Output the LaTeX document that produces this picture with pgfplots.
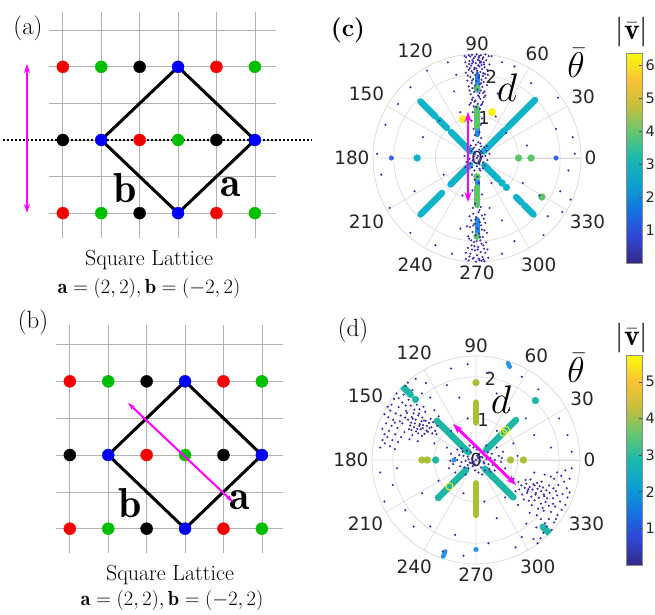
\RequirePackage{fix-cm}
\documentclass[border=0pt]{standalone}
\usepackage{pgfplots}
\pgfplotsset{compat=1.18}
\usepgfplotslibrary{polar}
\usetikzlibrary{arrows.meta}
\usepackage{fontspec}
\newfontfamily\dejavu{DejaVu Sans}

\definecolor{dk}{RGB}{60,40,180}
\definecolor{cy}{RGB}{15,180,200}
\definecolor{gr}{RGB}{90,198,105}
\definecolor{bl}{RGB}{35,140,225}
\definecolor{bld}{RGB}{55,100,235}
\definecolor{yl}{RGB}{250,240,20}
\definecolor{tl}{RGB}{30,182,165}
\definecolor{ol}{RGB}{168,193,50}
\definecolor{bltwo}{RGB}{40,150,235}
\definecolor{mag}{RGB}{255,0,255}
\definecolor{latred}{RGB}{245,0,0}
\definecolor{latgreen}{RGB}{0,190,0}
\definecolor{latblue}{RGB}{0,0,245}

\pgfplotsset{
  colormap={parula}{rgb255=(53,42,135) rgb255=(48,70,215) rgb255=(20,115,225) rgb255=(12,160,210) rgb255=(25,185,175) rgb255=(100,200,110) rgb255=(200,190,60) rgb255=(252,195,50) rgb255=(249,251,14)},
  lattice/.style={scale only axis, width=227bp, xmin=-3.36, xmax=2.55,
    xtick={-3,...,2}, ytick={-2,...,3}, grid=major,
    major grid style={draw=black!30, line width=0.7bp},
    axis line style={draw=none}, tick style={draw=none},
    xticklabels={}, yticklabels={}, clip=false},
  latdot/.style={only marks, mark=*, mark size=6bp},
  polarstyle/.style={scale only axis, width=208bp, height=208bp,
    ymin=0, ymax=2.5, xtick={0,30,...,330},
    xticklabels={0,30,60,90,120,150,180,210,240,270,300,330},
    ytick={1,2}, yticklabels={}, grid=major,
    major grid style={draw=black!13, line width=0.7bp},
    axis line style={draw=black!15, line width=0.7bp},
    tick style={draw=none},
    xticklabel style={font=\dejavu\fontsize{18.5}{18.5}\selectfont, text=black!85}},
  seg/.style={line width=6.5bp, line cap=round, no marks},
  bigdot/.style={only marks, mark=*, mark size=3.4bp},
  dkd/.style={only marks, mark=*, mark size=0.85bp, color=dk, data cs=cart},
  cbar/.style={scale only axis, width=16bp, height=210bp, anchor=north west,
    xmin=0, xmax=1, ymin=0, enlargelimits=false, xtick=\empty,
    ytick pos=right, yticklabel pos=right, tick align=inside, major tick length=3bp,
    yticklabel style={font=\dejavu\fontsize{14.5}{14.5}\selectfont, text=black!85},
    axis line style={draw=black!45, line width=0.5bp},
    tick style={draw=black!70, line width=0.5bp},
    colormap name=parula, point meta min=0, axis on top},
}
\newcommand\rlab{\dejavu\fontsize{18}{18}\selectfont}

\begin{document}
\begin{tikzpicture}
\useasboundingbox (0,0) rectangle (655bp,615bp);
\fill[white] (0,0) rectangle (655bp,615bp);

% ---------------- (a) lattice ----------------
\begin{axis}[lattice, at={(49bp,377bp)}, anchor=south west, height=226bp, ymin=-2.68, ymax=3.5]
\draw[black, line width=2.5bp, dash pattern=on 2bp off 2bp] (axis cs:-4.56,0) -- (axis cs:3.49,0);
\addplot[latdot, latred] coordinates {(-3,2) (1,2) (-1,0) (-3,-2) (1,-2)};
\addplot[latdot, latgreen] coordinates {(-2,2) (2,2) (0,0) (-2,-2) (2,-2)};
\addplot[latdot, black] coordinates {(-1,2) (-3,0) (1,0) (-1,-2)};
\addplot[latdot, latblue] coordinates {(0,2) (-2,0) (2,0) (0,-2)};
\addplot[black, line width=3bp, line join=round, line cap=round, no marks] coordinates {(0,2) (2,0) (0,-2) (-2,0) (0,2)};
\node at (axis cs:-1.38,-1.31) {\fontsize{42}{42}\selectfont$\mathbf{b}$};
\node at (axis cs:1.38,-1.28) {\fontsize{42}{42}\selectfont$\mathbf{a}$};
\end{axis}

% ---------------- (b) lattice ----------------
\begin{axis}[lattice, at={(56bp,62bp)}, anchor=south west, height=228bp, ymin=-2.66, ymax=3.53]
\addplot[latdot, latred] coordinates {(-3,2) (1,2) (-1,0) (-3,-2) (1,-2)};
\addplot[latdot, latgreen] coordinates {(-2,2) (2,2) (0,0) (-2,-2) (2,-2)};
\addplot[latdot, black] coordinates {(-1,2) (-3,0) (1,0) (-1,-2)};
\addplot[latdot, latblue] coordinates {(0,2) (-2,0) (2,0) (0,-2)};
\addplot[black, line width=3bp, line join=round, line cap=round, no marks] coordinates {(0,2) (2,0) (0,-2) (-2,0) (0,2)};
\node at (axis cs:-1.43,-1.31) {\fontsize{42}{42}\selectfont$\mathbf{b}$};
\node at (axis cs:1.43,-1.22) {\fontsize{42}{42}\selectfont$\mathbf{a}$};
\end{axis}

% ---------------- (c) polar ----------------
\begin{polaraxis}[polarstyle, at={(477bp,457bp)}, anchor=center]
\addplot[seg, bl, line width=5bp] coordinates {(90,1.63) (90,2.0)};
\addplot[seg, bl, line width=5bp] coordinates {(90,0.56) (90,0.72)};
\addplot[seg, gr] coordinates {(90,0.76) (90,1.2)};
\addplot[seg, bl, line width=5bp] coordinates {(270,1.48) (270,1.85)};
\addplot[seg, bl, line width=5bp] coordinates {(270,0.55) (270,0.68)};
\addplot[seg, gr] coordinates {(270,0.71) (270,1.13)};
\addplot[bigdot, gr] coordinates {(90,1.68) (270,0.45) (270,1.88) (0,1.0) (0,1.3) (329,1.82)};
\addplot[seg, cy] coordinates {(45,0.22) (45,0.95)};
\addplot[seg, cy] coordinates {(45,1.05) (45,1.97)};
\addplot[seg, cy] coordinates {(135,0.23) (135,0.88)};
\addplot[seg, cy] coordinates {(135,1.02) (135,1.3)};
\addplot[seg, cy] coordinates {(135,1.41) (135,1.92)};
\addplot[seg, cy] coordinates {(225,0.23) (225,0.9)};
\addplot[seg, cy] coordinates {(225,1.19) (225,1.92)};
\addplot[seg, cy] coordinates {(315,0.25) (315,0.73)};
\addplot[seg, cy] coordinates {(315,1.33) (315,1.52)};
\addplot[seg, cy] coordinates {(315,1.6) (315,1.92)};
\addplot[bigdot, cy] coordinates {(315,0.85) (315,1.0) (180,1.44)};
\addplot[bigdot, bld, mark size=2.3bp] coordinates {(0,1.9) (180,2.06)};
\addplot[bigdot, yl, mark size=3.8bp] coordinates {(110,0.99) (72,1.16)};
\addplot[dkd] coordinates {
(-0.12,2.48) (0.05,2.45) (0.15,2.42) (-0.08,2.40) (0.02,2.36) (-0.18,2.33) (0.10,2.31) (-0.03,2.28) (0.17,2.25) (-0.14,2.22)
(0.06,2.20) (-0.06,2.17) (0.12,2.14) (-0.20,2.12) (0.00,2.10) (0.08,2.07) (-0.10,2.05) (0.19,2.02) (-0.04,2.00) (0.14,1.97)
(-0.16,1.95) (0.04,1.93) (-0.09,1.90) (0.11,1.88) (-0.02,1.85) (0.16,1.83) (-0.13,1.80) (0.07,1.77) (-0.05,1.74) (0.13,1.71)
(-0.11,1.68) (0.01,1.65) (0.09,1.62) (-0.07,1.59) (0.15,1.56) (-0.15,1.53) (0.03,1.50) (-0.01,2.49) (0.09,2.47) (-0.16,2.44)
(0.13,2.38) (-0.11,2.35) (0.07,2.29) (-0.19,2.26) (0.18,2.18) (-0.07,2.13) (0.03,2.23) (-0.13,2.09) (0.15,2.04) (0.22,2.35)
(-0.24,2.20) (0.25,2.12) (-0.26,2.42) (0.28,2.45) (-0.22,1.98) (0.21,1.92) (-0.23,1.86) (0.24,1.75) (-0.20,1.72) (0.18,1.60)
(-0.10,1.45) (0.08,1.42) (-0.04,1.38) (0.14,1.35) (-0.15,1.32) (0.02,1.30) (0.10,1.27) (-0.08,1.24) (0.05,1.47) (-0.12,1.40)
(0.17,1.46) (-0.02,1.22) (0.06,0.62) (-0.05,0.55) (0.10,0.48) (-0.09,0.42) (0.03,0.38)
(0.04,2.41) (-0.09,2.31) (0.11,2.24) (-0.02,2.15) (0.06,2.34) (-0.05,2.44) (0.16,2.30) (-0.17,2.16) (0.01,2.06) (-0.12,2.27)
(0.20,2.49) (-0.20,2.47) (0.12,2.50) (-0.28,2.30) (0.30,2.25) (0.26,2.00) (-0.27,2.05) (0.05,1.98) (-0.12,1.86) (0.10,1.80)
(-0.18,1.62) (0.06,1.56) (0.20,1.50) (-0.06,1.35) (0.12,1.30) (-0.18,1.28) (0.07,1.18) (-0.10,1.10) (0.12,0.95) (-0.13,0.90)
(0.09,0.80) (-0.08,0.70)
(0.02,0.05) (-0.05,0.10) (0.08,-0.03) (-0.10,-0.06) (0.12,0.12) (-0.02,-0.12) (0.05,0.20) (-0.14,0.16) (0.15,-0.10) (-0.07,0.25)
(0.00,-0.20) (0.10,0.28) (-0.18,-0.02) (0.20,0.05) (-0.12,-0.22) (0.06,-0.26) (-0.03,0.32) (0.14,-0.25) (-0.20,0.20) (0.22,0.18)
(-0.25,-0.10) (0.25,-0.05) (0.00,0.00) (-0.06,-0.30) (0.08,0.35) (0.18,0.25) (-0.15,0.30) (0.30,0.10) (-0.30,0.05) (0.04,-0.08)
(-0.08,0.04) (0.10,0.00) (-0.04,0.15) (0.06,-0.15) (-0.16,-0.14) (0.13,0.04)
(0.18,-0.18) (-0.22,0.08) (0.09,0.16) (-0.10,0.22) (0.24,0.28) (-0.28,-0.22)
(0.04,-1.30) (-0.09,-1.34) (0.12,-1.38) (-0.02,-1.42) (0.16,-1.46) (-0.14,-1.50) (0.07,-1.54) (-0.06,-1.58) (0.10,-1.62) (-0.17,-1.66)
(0.01,-1.70) (0.18,-1.74) (-0.11,-1.78) (0.05,-1.82) (-0.03,-1.86) (0.14,-1.90) (-0.19,-1.94) (0.08,-1.98) (-0.07,-2.02) (0.11,-2.06)
(-0.13,-2.10) (0.03,-2.14) (0.17,-2.18) (-0.05,-2.22) (0.09,-2.26) (-0.16,-2.30) (0.00,-2.34) (0.13,-2.38) (-0.10,-2.42) (0.06,-2.46)
(-0.02,-2.49) (0.15,-2.44) (-0.18,-2.37) (0.20,-2.28) (-0.22,-2.16) (0.22,-2.03) (-0.21,-1.88) (0.24,-1.80) (-0.24,-1.64) (0.20,-1.56)
(-0.01,-2.00) (0.02,-2.20) (-0.08,-2.40) (0.11,-2.47) (-0.12,-2.20) (0.07,-1.90) (-0.04,-1.48) (0.01,-0.45) (-0.06,-0.52) (0.05,-0.60)
(-0.10,-1.20) (0.09,-1.18) (-0.27,-2.43) (0.27,-2.40)
(0.18,-2.48) (-0.20,-2.46) (0.25,-2.20) (-0.27,-2.28) (0.04,-2.42) (-0.06,-2.12) (0.15,-2.10) (-0.14,-1.98) (0.12,-1.72) (-0.09,-1.62)
(0.19,-1.36) (-0.18,-1.40) (0.06,-1.25) (-0.05,-1.10) (0.12,-0.88) (-0.11,-0.78) (0.08,-0.30) (-0.12,-0.40)
(-1.60,1.70) (-1.20,2.10) (-0.70,2.30) (-0.50,2.00) (0.60,2.30) (0.90,2.20) (1.30,1.80) (1.90,0.70) (2.30,0.50) (2.20,-0.30)
(2.00,-0.80) (2.25,-1.00) (1.50,-0.90) (1.10,-0.60) (1.70,-1.40) (0.90,-2.00) (0.60,-2.30) (-0.60,-2.30) (-1.00,-2.10) (-1.60,-1.80)
(-2.10,-1.20) (-2.30,-0.40) (-1.50,-0.80) (-0.90,0.90) (-1.30,0.50) (-2.20,0.80) (-1.90,1.30) (-0.40,1.10) (0.45,1.00) (0.70,0.60)
(0.35,-0.60) (-0.35,-0.90) (1.20,0.30) (-0.80,-0.40) (1.95,1.45) (2.35,0.10) (-2.40,0.10) (-0.30,2.45) (0.35,2.45) (-0.55,1.60)
(0.50,1.55) (1.60,-1.85) (0.30,-1.20) (-0.40,-1.70) (0.60,-1.50) (2.05,-1.30)
};
\node[font=\rlab, text=black!85] at (axis cs:80,0.98) {1};
\node[font=\rlab, text=black!85] at (axis cs:80,1.98) {2};
\node[font=\rlab, text=black!85] at (axis cs:0,0) {0};
\end{polaraxis}

% ---------------- (d) polar ----------------
\begin{polaraxis}[polarstyle, at={(476bp,155bp)}, anchor=center]
\addplot[dkd] coordinates {
(-1.73,1.97) (-1.64,1.86) (-1.69,1.78) (-1.82,1.74) (-1.53,1.68) (-1.91,1.60) (-1.74,1.57) (-1.86,1.49) (-1.97,1.47) (-1.77,1.38)
(-2.03,1.33) (-1.86,1.27) (-1.69,1.31) (-2.06,1.19) (-1.93,1.12) (-1.81,1.07) (-2.11,1.03) (-1.99,0.97) (-1.83,0.93) (-2.16,0.88)
(-2.03,0.82) (-1.89,0.77) (-2.09,0.70) (-1.94,0.62) (-2.13,0.55) (-2.01,0.48) (-2.19,0.40) (-1.87,0.43) (-2.07,0.33) (-1.95,0.26)
(-1.63,0.97) (-1.52,0.99) (-1.47,0.88) (-1.31,0.93) (-1.27,0.84) (-1.13,0.89) (-1.07,0.79) (-1.58,0.83) (-1.49,0.79) (-1.36,0.82)
(-1.33,0.74) (-1.19,0.71) (-1.12,0.77) (-0.98,0.70) (-1.61,0.74) (-1.44,0.69) (-1.41,0.75) (-1.24,0.63) (-1.16,0.68) (-1.66,1.13)
(-1.54,1.03) (-1.39,1.07) (-1.29,1.02) (-1.21,0.94) (-1.09,0.99) (-1.48,1.21) (-1.37,1.12) (-1.22,1.16) (-1.72,0.67) (-1.77,0.88)
(-1.30,0.58) (-1.53,0.60) (-1.03,0.91) (-0.93,0.82) (-1.42,1.33) (-1.57,1.31) (-1.26,1.28) (-1.68,1.18) (-1.45,0.97) (-1.35,0.86)
(-1.18,0.82) (-1.56,0.90) (-1.28,0.77) (-1.39,0.64)
(-1.30,1.60) (-1.10,1.50) (-1.00,1.20) (-0.90,1.05) (-2.20,1.10) (-2.25,0.75) (-1.60,0.50) (-1.40,0.45) (-2.30,0.30) (-1.45,1.95)
(-1.20,1.85) (-2.20,1.35)
(-1.85,1.82) (-2.05,1.55) (-1.62,1.45) (-1.95,0.90) (-2.20,0.62) (-1.80,0.55) (-1.55,0.72) (-1.25,0.95) (-1.05,0.64) (-1.50,1.12)
(-2.12,1.28) (-1.70,1.02) (-1.36,1.22) (-0.95,0.62) (-2.25,0.48)
(1.95,-0.30) (2.05,-0.38) (1.88,-0.45) (2.12,-0.52) (1.98,-0.60) (2.18,-0.68) (1.92,-0.75) (2.08,-0.82) (2.20,-0.90) (1.85,-0.92)
(2.02,-1.00) (2.15,-1.08) (1.90,-1.12) (2.06,-1.20) (1.80,-1.25) (1.96,-1.32) (2.10,-1.38) (1.75,-1.42) (1.88,-1.50) (2.00,-1.55)
(1.70,-1.60) (1.82,-1.68) (1.62,-1.75) (1.74,-1.82) (1.55,-1.88) (1.66,-1.95) (1.48,-2.00) (1.58,-2.08) (1.42,-2.12) (1.50,-2.20)
(1.35,-2.15) (1.95,-1.70) (1.86,-1.88) (2.25,-0.45) (2.30,-0.20)
(1.02,-0.53) (1.09,-0.61) (1.21,-0.57) (1.29,-0.65) (1.41,-0.61) (1.48,-0.69) (1.61,-0.66) (1.69,-0.73) (1.04,-0.71) (1.17,-0.67)
(1.24,-0.75) (1.36,-0.71) (1.44,-0.79) (1.57,-0.75) (1.63,-0.83) (1.77,-0.79) (1.11,-0.83) (1.23,-0.79) (1.33,-0.88) (1.43,-0.83)
(1.51,-0.91) (1.64,-0.87) (1.31,-0.47) (1.47,-0.55) (1.58,-0.52) (1.76,-0.61) (1.27,-0.98) (1.41,-0.97) (1.56,-1.05) (1.67,-1.01)
(1.19,-0.48) (1.86,-0.68) (1.49,-1.17) (1.34,-1.09) (1.63,-1.22) (1.46,-1.33) (1.56,-1.42) (1.29,-1.27) (1.21,-1.53) (1.01,-1.08)
(1.38,-0.58) (1.53,-0.63) (1.71,-0.92) (1.26,-0.70)
(2.15,-0.25) (1.80,-0.40) (1.95,-0.85) (2.25,-0.78) (1.75,-1.10) (1.92,-1.42) (1.66,-1.52) (1.45,-1.62) (1.38,-1.90) (1.60,-1.15)
(1.15,-0.95) (1.85,-1.05) (1.78,-1.95) (2.20,-1.20) (0.95,-0.75)
(0.90,-0.45) (1.65,-0.35) (1.40,-0.30) (2.30,-1.00) (1.10,-1.85) (0.95,-2.10) (1.20,-2.20)
(0.00,0.00) (0.05,0.05) (-0.05,-0.04) (0.10,-0.02) (-0.10,0.03) (0.15,0.06) (-0.15,-0.06) (0.20,-0.08) (-0.20,0.08) (0.25,0.02)
(-0.25,-0.02) (0.30,-0.10) (-0.30,0.10) (0.35,0.05) (-0.35,-0.05) (0.40,-0.12) (-0.40,0.12) (0.45,0.00) (-0.45,0.00) (0.50,-0.15)
(-0.50,0.05) (0.08,0.15) (-0.08,-0.15) (0.12,-0.18) (-0.12,0.18) (0.18,0.20) (-0.18,-0.20) (0.22,-0.25) (-0.22,0.22) (0.02,0.25)
(-0.02,-0.25) (0.28,0.18) (-0.28,-0.18) (0.32,-0.22) (-0.32,0.20) (0.06,-0.30) (-0.06,0.30) (0.38,0.15) (-0.38,-0.15) (0.55,0.10)
(-0.55,-0.10) (0.60,-0.05) (-0.60,0.15) (0.15,-0.35) (-0.15,0.35) (0.45,-0.25) (-0.45,0.25) (0.03,0.10) (-0.03,-0.10) (0.12,0.08)
(-0.12,-0.08) (0.20,0.12) (-0.20,-0.12) (0.65,0.20) (-0.65,-0.20) (0.70,-0.20) (-0.70,0.30) (0.25,0.35) (-0.25,-0.35) (0.50,0.30)
(-0.50,-0.30) (0.35,-0.28) (-0.35,0.28) (0.62,0.05) (-0.62,-0.02) (0.18,-0.05) (-0.18,0.02)
(-0.60,2.20) (-0.20,2.30) (0.30,2.10) (1.10,2.00) (1.50,1.70) (2.00,1.00) (2.20,0.60) (1.20,1.00) (0.80,1.20) (0.50,1.60)
(-0.40,1.50) (-0.70,1.80) (1.80,0.30) (2.30,0.20) (0.90,0.40) (-0.90,-0.50) (-1.30,-0.80) (-1.70,-1.20) (-2.00,-0.60) (-2.30,-0.30)
(-1.10,-1.60) (-0.50,-1.80) (-0.30,-2.30) (0.30,-2.00) (0.50,-1.40) (-1.50,-1.60) (-0.80,-2.20) (0.20,-1.00) (-0.30,-0.80) (0.70,-0.90)
(-2.20,-1.00) (-1.00,0.40) (-0.60,0.70) (0.50,0.70) (1.00,0.10) (-1.90,-0.20) (1.40,0.60) (-0.20,1.00)
};
\addplot[seg, ol] coordinates {(90,0.9) (90,1.38)};
\addplot[seg, ol] coordinates {(270,0.56) (270,1.32)};
\addplot[bigdot, ol] coordinates {(90,1.86) (0,0.83) (0,1.14) (180,1.3) (180,1.17)};
\addplot[seg, tl] coordinates {(135,0.26) (135,1.33)};
\addplot[seg, tl] coordinates {(315,0.3) (315,1.27)};
\addplot[seg, tl] coordinates {(45,0.35) (45,1.36)};
\addplot[seg, tl] coordinates {(225,0.34) (225,1.23)};
\addplot[seg, tl] coordinates {(135,2.22) (135,2.48)};
\addplot[seg, tl] coordinates {(315,2.27) (315,2.5)};
\addplot[bigdot, tl] coordinates {(180,0.97) (225,1.28) (135,2.06) (45,2.02)};
\addplot[bigdot, bltwo, mark size=2.3bp] coordinates {(180,0.53) (270,2.15)};
\addplot[seg, bltwo, line width=4.5bp, data cs=cart] coordinates {(0.77,2.33) (0.81,2.24)};
\addplot[seg, bltwo, line width=4.5bp, data cs=cart] coordinates {(-0.74,-2.2) (-0.79,-2.32)};
\addplot[only marks, mark=o, mark size=3.5bp, yl, line width=1bp] coordinates {(45,0.93) (45,1.02) (225,0.9)};
\node[font=\rlab, text=black!85] at (axis cs:80,0.98) {1};
\node[font=\rlab, text=black!85] at (axis cs:80,1.98) {2};
\node[font=\rlab, text=black!85] at (axis cs:0,0) {0};
\end{polaraxis}

% ---------------- colorbars ----------------
\begin{axis}[cbar, at={(626bp,562bp)}, ymax=6.37, point meta max=6.37,
  ytick={1,2,3,4,5,6}, yticklabels={1,2,3,4,5,6}]
\addplot[surf, shader=interp, point meta=y, mesh/rows=2] coordinates {(0,0) (1,0) (0,6.37) (1,6.37)};
\end{axis}
\begin{axis}[cbar, at={(626bp,260bp)}, ymax=5.73, point meta max=5.73,
  ytick={1,2,3,4,5}, yticklabels={1,2,3,4,5}]
\addplot[surf, shader=interp, point meta=y, mesh/rows=2] coordinates {(0,0) (1,0) (0,5.73) (1,5.73)};
\end{axis}

% ---------------- annotations ----------------
\draw[mag, line width=2.5bp, {Stealth[length=9bp,width=6bp]}-{Stealth[length=9bp,width=6bp]}] (27bp,551bp) -- (27bp,402bp);
\draw[mag, line width=2bp, {Stealth[length=8bp,width=5bp]}-{Stealth[length=8bp,width=5bp]}] (128bp,212bp) -- (233bp,113bp);
\draw[mag, line width=2.8bp, {Stealth[length=10bp,width=7bp]}-{Stealth[length=10bp,width=7bp]}] (468bp,503bp) -- (468bp,413bp);
\draw[mag, line width=2.8bp, {Stealth[length=10bp,width=7bp]}-{Stealth[length=10bp,width=7bp]}] (453bp,191bp) -- (516bp,130bp);

\node at (28bp,587bp) {\fontsize{25}{25}\selectfont (a)};
\node at (33bp,293bp) {\fontsize{25}{25}\selectfont (b)};
\node at (348bp,585bp) {\fontsize{25}{25}\selectfont\bfseries (c)};
\node at (353bp,285bp) {\fontsize{25}{25}\selectfont (d)};

\node at (149bp,355bp) {\fontsize{22}{22}\selectfont Square Lattice};
\node at (149bp,327bp) {\fontsize{20.5}{20.5}\selectfont $\mathbf{a}=(2,2),\mathbf{b}=(-2,2)$};
\node at (170bp,40bp) {\fontsize{22}{22}\selectfont Square Lattice};
\node at (172bp,15bp) {\fontsize{20.5}{20.5}\selectfont $\mathbf{a}=(2,2),\mathbf{b}=(-2,2)$};

\node at (576bp,552bp) {\fontsize{36}{36}\selectfont $\bar{\theta}$};
\node at (507bp,527bp) {\fontsize{40}{40}\selectfont $d$};
\node at (632bp,583bp) {\fontsize{30}{30}\selectfont $\left|\bar{\mathbf{v}}\right|$};
\node at (576bp,247bp) {\fontsize{36}{36}\selectfont $\bar{\theta}$};
\node at (501bp,215bp) {\fontsize{40}{40}\selectfont $d$};
\node at (632bp,277bp) {\fontsize{30}{30}\selectfont $\left|\bar{\mathbf{v}}\right|$};
\end{tikzpicture}
\end{document}
